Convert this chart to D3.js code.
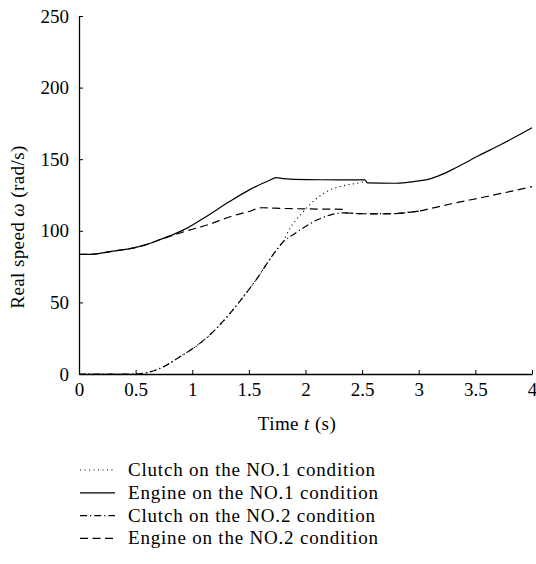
<!DOCTYPE html>
<html>
<head>
<meta charset="utf-8">
<script src="https://cdn.jsdelivr.net/npm/d3@7"></script>
<style>
  body { margin: 0; background: #fff; }
  text { font-family: "Liberation Serif", "Times New Roman", serif; fill: #000; }
</style>
</head>
<body>
<div id="chart"></div>
<script>
// ---- data ----
var xTicks = [0, 0.5, 1, 1.5, 2, 2.5, 3, 3.5, 4];
var yTicks = [0, 50, 100, 150, 200, 250];

// Clutch on the NO.1 condition (dotted)
var clutch1T = [0, 0.5, 0.6, 0.745, 0.9, 1.01, 1.216, 1.392, 1.5, 1.584, 1.65, 1.72, 1.8, 1.863, 1.98, 2.098, 2.216, 2.364, 2.51, 2.53];
var clutch1V = [0, 0, 1, 5, 12.5, 18, 32, 48, 59, 68, 76, 84, 92.5, 101.7, 113.3, 122.6, 128.5, 132, 134.3, 135.5];

// Engine on the NO.1 condition (solid)
var engine1T = [0, 0.1, 0.3, 0.45, 0.6, 0.72, 0.85, 0.95, 1.1, 1.333, 1.5, 1.669, 1.745, 1.8, 2.01, 2.3, 2.525, 2.546, 2.79, 3.0, 3.1, 3.2, 3.3, 3.4, 3.5, 3.73, 4.0];
var engine1V = [83.6, 83.6, 85.8, 87.5, 90.5, 94, 98, 101.7, 108.8, 120.6, 128.4, 134.8, 137.1, 136.5, 135.7, 135.6, 135.5, 133.5, 133.2, 134.8, 136.3, 139.2, 142.9, 147, 151.3, 160.4, 172];

// Clutch on the NO.2 condition (dash-dot)
var clutch2T = [0, 0.5, 0.6, 0.745, 0.9, 1.01, 1.216, 1.392, 1.5, 1.584, 1.65, 1.72, 1.8, 1.9, 2.0, 2.1, 2.216, 2.334, 2.51, 2.79, 2.9, 3.0];
var clutch2V = [0, 0, 1, 5, 12.5, 18, 32, 48, 59, 68, 76, 84, 92, 97.8, 103, 107.5, 111, 112.5, 111.9, 112, 112.8, 113.8];

// Engine on the NO.2 condition (dashed)
var engine2T = [0, 0.1, 0.3, 0.45, 0.6, 0.72, 0.8, 0.95, 1.15, 1.333, 1.5, 1.613, 1.8, 2.0, 2.334, 2.35, 2.51, 2.65, 2.79, 2.9, 3.0, 3.1, 3.2, 3.29, 3.58, 4.0];
var engine2V = [83.6, 83.6, 85.8, 87.5, 90.5, 94, 96, 99.9, 104.5, 109.8, 113.5, 116.1, 115.6, 115.3, 115, 112.6, 111.9, 111.8, 112, 112.8, 113.8, 115.5, 117.3, 118.9, 123.6, 130.8];

var seriesNames = ["Clutch on the NO.1 condition", "Engine on the NO.1 condition",
                   "Clutch on the NO.2 condition", "Engine on the NO.2 condition"];
var seriesT = [clutch1T, engine1T, clutch2T, engine2T];
var seriesV = [clutch1V, engine1V, clutch2V, engine2V];
var seriesDash = ["1,3.5", null, "7,3,1.2,3", "8,4.5"];

var W = 536, H = 564;
var serif = "Liberation Serif";

var svg = d3.select("#chart")
  .append("svg")
  .attr("width", W)
  .attr("height", H);

var x = d3.scaleLinear().domain([0, 4]).range([79, 532]);
var y = d3.scaleLinear().domain([0, 250]).range([374, 16]);

// X axis (ticks point inward)
var gx = svg.append("g")
  .attr("transform", "translate(0," + y(0) + ")")
  .attr("font-family", serif)
  .call(d3.axisBottom(x).tickValues(xTicks).tickSize(-4).tickSizeOuter(0).tickPadding(10)
    .tickFormat(function(d) { return d; }));
gx.attr("font-family", serif).attr("font-size", 19);
gx.select(".domain").attr("stroke", "#000").attr("stroke-width", 1.3);
gx.selectAll(".tick line").attr("stroke", "#000");
gx.selectAll(".tick text").attr("y", 9).attr("dy", "0.71em");

// Y axis
var gy = svg.append("g")
  .attr("transform", "translate(" + x(0) + ",0)")
  .call(d3.axisLeft(y).tickValues(yTicks).tickSize(-4).tickSizeOuter(0).tickPadding(10));
gy.attr("font-family", serif).attr("font-size", 19);
gy.select(".domain").attr("stroke", "#000").attr("stroke-width", 1.3);
gy.selectAll(".tick line").attr("stroke", "#000");

// Axis titles
var xt = svg.append("text")
  .attr("x", 297)
  .attr("y", 430)
  .attr("text-anchor", "middle")
  .attr("font-size", "19px")
  .attr("letter-spacing", "0.4px");
xt.append("tspan").text("Time ");
xt.append("tspan").attr("font-style", "italic").text("t");
xt.append("tspan").text(" (s)");

var yt = svg.append("text")
  .attr("text-anchor", "middle")
  .attr("transform", "translate(24,227)rotate(-90)")
  .attr("font-size", "19px")
  .attr("letter-spacing", "0.4px");
yt.append("tspan").text("Real speed ");
yt.append("tspan").attr("font-style", "italic").text("\u03c9");
yt.append("tspan").text(" (rad/s)");

// Lines
var line = d3.line()
  .x(function(d) { return x(d[0]); })
  .y(function(d) { return y(d[1]); })
  .curve(d3.curveMonotoneX);

seriesT.forEach(function(ts, i) {
  var pts = ts.map(function(t, j) { return [t, seriesV[i][j]]; });
  svg.append("path")
    .datum(pts)
    .attr("d", line)
    .attr("fill", "none")
    .attr("stroke", "#000")
    .attr("stroke-width", 1.2)
    .attr("stroke-dasharray", seriesDash[i]);
});

// Legend
var legend = svg.append("g");
seriesNames.forEach(function(name, i) {
  var by = 476 + i * 22.8;
  legend.append("line")
    .attr("x1", 80).attr("x2", 115)
    .attr("y1", by - 6).attr("y2", by - 6)
    .attr("stroke", "#000")
    .attr("stroke-width", 1.2)
    .attr("stroke-dasharray", seriesDash[i]);
  legend.append("text")
    .attr("x", 128)
    .attr("y", by)
    .attr("font-size", "19px")
    .attr("letter-spacing", "0.8px")
    .text(name);
});
</script>
</body>
</html>
